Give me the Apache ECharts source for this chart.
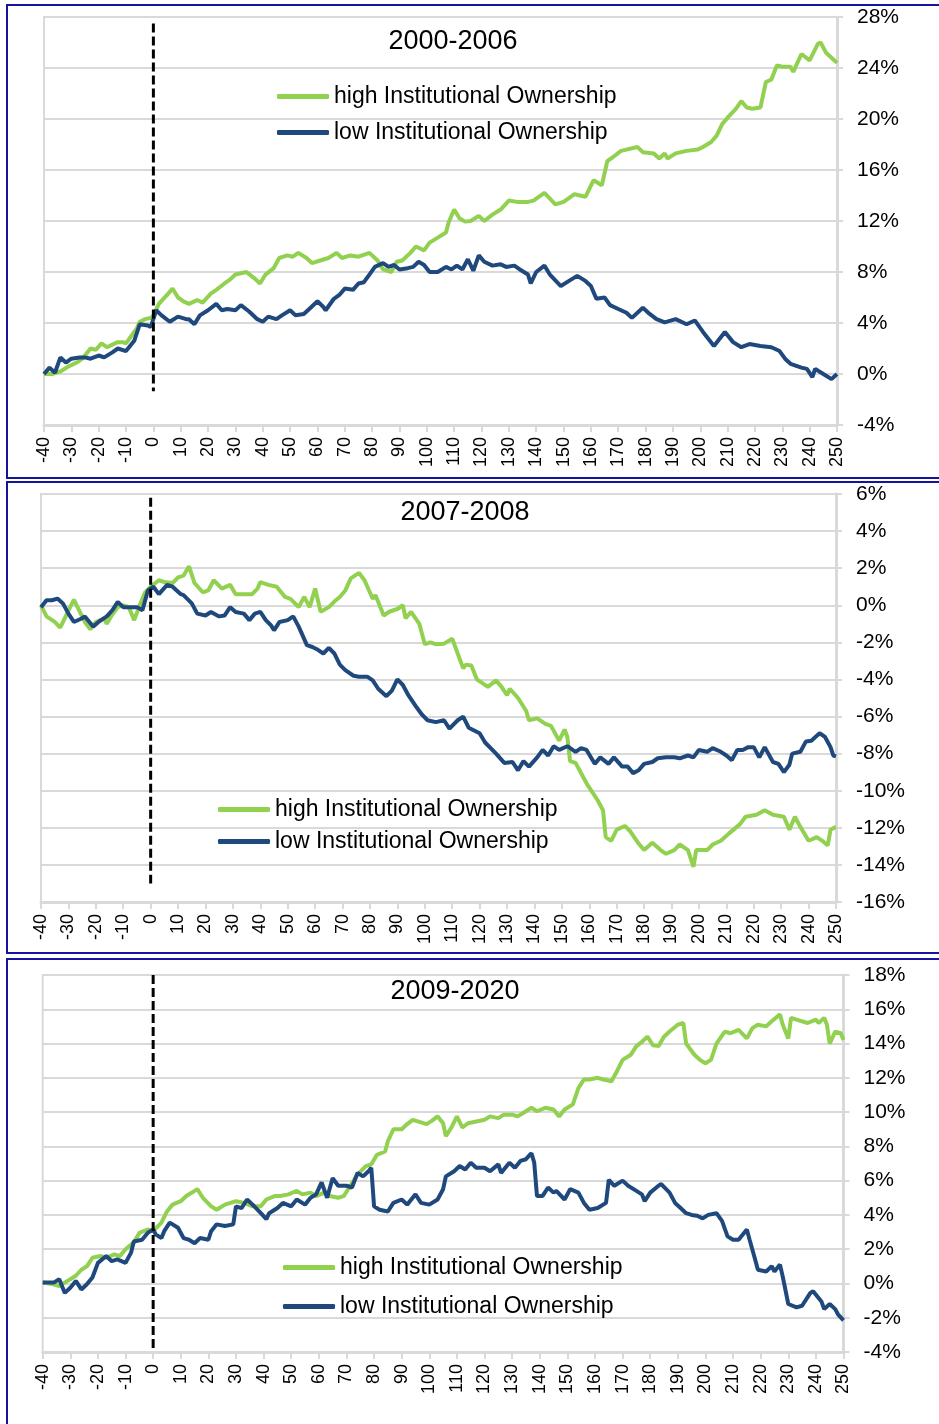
<!DOCTYPE html>
<html>
<head>
<meta charset="utf-8">
<title>High vs low institutional ownership</title>
<script src="https://cdn.jsdelivr.net/npm/echarts@6/dist/echarts.min.js"></script>
<style>
  html, body { margin: 0; padding: 0; background: #fff; }
  #chart { width: 939px; height: 1424px; }
</style>
</head>
<body>
<div id="chart"></div>
<script>
// cumulative return (%), as [day, value]
const hi0006 = [[-40,0],[-37,0],[-34,0.2],[-31,0.6],[-28,0.9],[-26,1.2],[-23,2.0],[-21,1.9],[-19,2.4],[-17,2.1],[-15,2.3],[-13,2.5],[-11,2.5],[-10,2.4],[-8,3.0],[-6,3.6],[-5,4.1],[-3,4.3],[-1,4.4],[0,4.6],[2,5.5],[5,6.2],[7,6.7],[9,6.0],[11,5.7],[13,5.5],[15,5.7],[16,5.8],[18,5.6],[21,6.3],[23,6.6],[26,7.1],[28,7.4],[30,7.8],[34,8.0],[37,7.5],[39,7.1],[41,7.8],[44,8.3],[46,9.1],[49,9.3],[51,9.2],[53,9.5],[56,9.1],[58,8.7],[61,8.9],[64,9.1],[67,9.5],[69,9.1],[72,9.3],[75,9.2],[79,9.5],[82,8.9],[84,8.2],[87,8.0],[89,8.8],[91,8.9],[94,9.5],[96,10.0],[99,9.7],[101,10.3],[104,10.7],[107,11.1],[108,11.9],[110,12.9],[112,12.2],[114,11.95],[116,12.0],[119,12.4],[121,12.0],[124,12.5],[127,12.9],[130,13.6],[133,13.5],[137,13.5],[139,13.6],[143,14.2],[147,13.3],[150,13.5],[154,14.1],[158,13.9],[161,15.2],[164,14.8],[166,16.7],[168,17.0],[171,17.5],[177,17.8],[179,17.4],[183,17.3],[185,16.9],[187,17.3],[188,16.9],[191,17.3],[195,17.5],[199,17.6],[201,17.8],[204,18.2],[206,18.7],[208,19.6],[210,20.1],[213,20.8],[215,21.4],[217,20.9],[219,20.8],[222,20.9],[224,22.9],[226,23.1],[228,24.2],[230,24.1],[233,24.1],[234,23.7],[237,25.1],[240,24.6],[243,25.9],[244,26.0],[246,25.2],[248,24.8],[250,24.4]];
const lo0006 = [[-40,0],[-38,0.5],[-36,0.1],[-34,1.3],[-32,0.9],[-30,1.2],[-27,1.3],[-25,1.3],[-23,1.2],[-20,1.45],[-18,1.3],[-15,1.7],[-13,2.0],[-10,1.8],[-7,2.6],[-5,3.9],[-2,3.8],[-1,3.7],[0,4.3],[1,5.0],[3,4.6],[6,4.1],[9,4.5],[12,4.3],[13,4.3],[15,3.9],[17,4.6],[20,5.0],[23,5.5],[25,5.0],[27,5.1],[30,5.0],[32,5.4],[35,4.9],[38,4.3],[40,4.1],[42,4.5],[45,4.3],[47,4.6],[50,5.0],[52,4.6],[55,4.7],[57,5.1],[60,5.7],[62,5.3],[63,5.0],[66,5.9],[68,6.2],[70,6.7],[73,6.6],[75,7.1],[77,7.2],[79,7.8],[81,8.4],[84,8.7],[86,8.4],[88,8.55],[90,8.2],[93,8.3],[95,8.4],[97,8.8],[99,8.55],[101,8.0],[104,8.0],[107,8.4],[109,8.2],[111,8.5],[113,8.2],[115,9.0],[117,8.1],[119,9.3],[121,8.8],[124,8.5],[127,8.6],[129,8.4],[132,8.5],[134,8.2],[137,7.8],[138,7.1],[140,8.0],[143,8.5],[145,7.8],[149,6.9],[152,7.3],[155,7.7],[158,7.3],[160,6.9],[162,5.9],[165,6.0],[167,5.4],[170,5.1],[173,4.8],[175,4.4],[179,5.2],[181,4.8],[184,4.3],[187,4.05],[191,4.3],[195,3.9],[198,4.2],[201,3.3],[205,2.2],[209,3.3],[212,2.5],[215,2.1],[218,2.35],[222,2.2],[226,2.1],[229,1.8],[231,1.2],[233,0.8],[237,0.5],[239,0.4],[241,-0.25],[242,0.4],[245,0.0],[248,-0.4],[250,0.0]];
const hi0708 = [[-40,0],[-38,-0.6],[-35,-0.9],[-33,-1.2],[-31,-0.6],[-28,0.3],[-27,0.0],[-24,-0.9],[-22,-1.3],[-20,-0.9],[-17,-0.7],[-16,-1.0],[-14,-0.5],[-12,-0.1],[-10,0.0],[-8,-0.1],[-6,-0.8],[-4,0],[-2,0.7],[0,1.0],[3,1.35],[5,1.25],[8,1.2],[10,1.5],[12,1.6],[14,2.1],[16,1.2],[19,0.7],[21,0.8],[23,1.35],[26,0.9],[29,1.1],[31,0.6],[34,0.6],[37,0.6],[39,0.9],[40,1.25],[43,1.1],[46,1.0],[49,0.45],[51,0.35],[54,-0.1],[56,0.45],[58,-0.1],[60,0.9],[62,-0.35],[65,-0.1],[67,0.2],[69,0.45],[71,0.8],[73,1.45],[76,1.75],[78,1.35],[81,0.35],[82,0.55],[85,-0.55],[87,-0.35],[90,-0.2],[92,0],[93,-0.7],[95,-0.35],[98,-1.0],[100,-2.1],[102,-2.0],[104,-2.1],[107,-2.07],[110,-1.8],[112,-2.6],[114,-3.4],[115,-3.2],[117,-3.25],[119,-4.0],[123,-4.4],[126,-4.05],[128,-4.4],[130,-4.85],[131,-4.5],[134,-5.0],[137,-5.7],[138,-6.2],[141,-6.1],[144,-6.4],[146,-6.5],[149,-7.3],[151,-6.7],[152,-7.1],[153,-8.4],[155,-8.5],[159,-9.6],[163,-10.5],[165,-11.05],[166,-12.5],[168,-12.7],[170,-12.1],[173,-11.9],[175,-12.2],[178,-12.85],[180,-13.2],[183,-12.8],[186,-13.2],[188,-13.4],[191,-13.2],[193,-12.9],[196,-13.2],[198,-14.1],[199,-13.2],[203,-13.2],[205,-12.9],[208,-12.7],[211,-12.3],[215,-11.8],[217,-11.4],[221,-11.3],[224,-11.05],[227,-11.3],[231,-11.4],[233,-12.1],[235,-11.4],[237,-11.95],[240,-12.7],[243,-12.5],[245,-12.7],[247,-12.95],[248,-12.1],[250,-11.95]];
const lo0708 = [[-40,-0.1],[-38,0.27],[-36,0.27],[-34,0.36],[-32,0.1],[-30,-0.45],[-28,-0.9],[-25,-0.7],[-24,-0.6],[-21,-1.15],[-19,-0.9],[-16,-0.6],[-14,-0.27],[-12,0.18],[-10,-0.1],[-8,-0.1],[-5,-0.1],[-3,-0.27],[-1,0.8],[1,1.0],[3,0.6],[6,1.1],[8,1.0],[11,0.6],[12,0.55],[15,0.1],[17,-0.45],[20,-0.55],[22,-0.36],[25,-0.6],[27,-0.55],[29,-0.1],[31,-0.36],[34,-0.45],[36,-0.8],[38,-0.45],[40,-0.36],[42,-0.8],[44,-1.1],[45,-1.35],[47,-0.9],[50,-0.8],[52,-0.6],[54,-1.15],[57,-2.15],[59,-2.25],[61,-2.4],[63,-2.6],[65,-2.3],[67,-2.6],[69,-3.2],[71,-3.5],[74,-3.8],[76,-3.85],[79,-3.85],[81,-4.05],[83,-4.5],[86,-4.9],[88,-4.6],[90,-4.0],[92,-4.3],[94,-4.85],[97,-5.5],[99,-5.9],[101,-6.2],[104,-6.3],[107,-6.2],[109,-6.65],[112,-6.2],[114,-6.0],[116,-6.6],[120,-6.9],[122,-7.4],[126,-8.0],[129,-8.5],[132,-8.45],[134,-8.9],[136,-8.4],[138,-8.7],[141,-8.2],[143,-7.8],[145,-8.1],[147,-7.6],[149,-7.8],[152,-7.6],[155,-7.9],[157,-7.7],[159,-7.8],[162,-8.55],[164,-8.2],[167,-8.55],[169,-8.2],[172,-8.7],[174,-8.7],[176,-9.05],[178,-8.9],[180,-8.55],[183,-8.45],[185,-8.25],[188,-8.2],[191,-8.2],[193,-8.25],[196,-8.1],[198,-8.2],[200,-7.8],[203,-7.9],[205,-7.7],[208,-7.9],[210,-8.1],[212,-8.35],[214,-7.8],[216,-7.8],[218,-7.65],[220,-7.65],[222,-8.2],[224,-7.65],[227,-8.45],[229,-8.55],[231,-9.0],[233,-8.6],[234,-8.0],[237,-7.9],[239,-7.35],[241,-7.3],[244,-6.9],[246,-7.1],[248,-7.65],[249,-8.1],[250,-8.15]];
const hi0920 = [[-40,0.05],[-36,-0.05],[-34,-0.15],[-31,0.15],[-29,0.35],[-28,0.45],[-26,0.8],[-24,1.0],[-22,1.5],[-19,1.6],[-17,1.5],[-14,1.7],[-12,1.6],[-10,2.0],[-7,2.4],[-5,2.95],[-2,3.15],[0,3.05],[3,3.55],[5,4.2],[7,4.6],[10,4.8],[12,5.1],[15,5.4],[16,5.5],[18,5.0],[21,4.5],[23,4.3],[26,4.6],[28,4.7],[30,4.8],[33,4.7],[36,4.5],[39,4.5],[41,4.9],[44,5.1],[46,5.1],[49,5.2],[52,5.4],[54,5.2],[57,5.3],[59,5.1],[62,5.3],[64,5.1],[67,5.0],[69,5.1],[71,5.6],[74,6.35],[77,6.85],[79,6.95],[81,7.5],[84,7.7],[85,8.3],[87,9.0],[90,9.0],[92,9.3],[94,9.55],[97,9.4],[99,9.3],[101,9.5],[103,9.75],[105,9.35],[106,8.6],[108,9.1],[110,9.75],[112,9.1],[114,9.35],[117,9.45],[120,9.55],[122,9.75],[125,9.65],[127,9.85],[130,9.85],[132,9.75],[134,9.95],[137,10.25],[139,10.05],[142,10.25],[145,10.15],[147,9.75],[149,10.15],[152,10.45],[154,11.4],[156,11.9],[158,11.9],[161,12.0],[163,11.9],[166,11.8],[168,12.4],[170,13.05],[173,13.35],[175,13.85],[177,14.1],[179,14.4],[181,13.9],[183,13.85],[185,14.4],[187,14.7],[190,15.1],[192,15.2],[193,14.0],[196,13.35],[198,13.05],[200,12.85],[202,13.05],[204,14.0],[207,14.7],[209,14.6],[212,14.8],[215,14.3],[217,14.9],[219,15.1],[222,15.0],[224,15.3],[227,15.7],[228,15.1],[230,14.3],[231,15.5],[233,15.4],[237,15.2],[240,15.4],[241,15.2],[243,15.5],[244,15.1],[245,14.0],[247,14.7],[249,14.6],[250,14.2]];
const lo0920 = [[-40,0.05],[-36,0.05],[-34,0.25],[-32,-0.55],[-30,-0.25],[-28,0.15],[-26,-0.35],[-24,-0.05],[-22,0.35],[-20,1.2],[-17,1.6],[-15,1.3],[-13,1.4],[-10,1.2],[-8,1.8],[-7,2.45],[-4,2.55],[-2,2.95],[0,3.15],[1,2.85],[3,2.65],[4,3.05],[6,3.55],[9,3.25],[11,2.65],[13,2.55],[15,2.35],[17,2.65],[20,2.55],[21,3.05],[23,3.45],[26,3.35],[29,3.45],[30,4.5],[32,4.4],[34,4.9],[36,4.6],[39,4.1],[41,3.75],[42,4.1],[45,4.4],[47,4.7],[50,4.5],[52,4.9],[55,4.6],[57,5.0],[59,5.2],[61,5.9],[63,5.0],[65,6.15],[67,5.7],[70,5.7],[72,5.6],[74,6.45],[76,6.25],[78,6.55],[79,6.75],[80,4.5],[82,4.3],[85,4.2],[87,4.7],[90,4.9],[92,4.6],[95,5.2],[97,4.7],[100,4.6],[103,4.9],[105,5.5],[106,6.25],[109,6.55],[111,6.85],[113,6.65],[115,7.05],[117,6.75],[120,6.75],[122,6.55],[125,6.95],[126,6.45],[129,7.05],[131,6.75],[133,7.15],[135,7.25],[137,7.6],[138,7.05],[139,5.1],[141,5.1],[143,5.6],[145,5.3],[146,5.4],[149,4.9],[151,5.5],[154,5.3],[156,4.7],[158,4.3],[161,4.4],[164,4.7],[165,6.05],[167,5.7],[170,6.0],[172,5.7],[175,5.4],[177,5.2],[178,4.8],[180,5.3],[183,5.7],[184,5.8],[187,5.3],[189,4.7],[191,4.4],[193,4.1],[195,4.0],[197,3.95],[199,3.8],[201,4.0],[204,4.1],[206,3.65],[208,2.75],[210,2.55],[212,2.55],[215,3.15],[216,2.55],[218,1.4],[219,0.8],[222,0.7],[224,1.0],[225,0.7],[227,1.1],[228,0.4],[230,-1.2],[233,-1.4],[235,-1.3],[238,-0.55],[239,-0.45],[242,-1.05],[243,-1.5],[245,-1.2],[247,-1.5],[248,-1.8],[250,-2.15]];

// event day marker: top / bottom value of the dashed line in each panel
const eventDay = 0;
const evt0006 = [27.5, -1.35];
const evt0708 = [5.8, -15.0];
const evt0920 = [18, -4];

const panelTitles = ['2000-2006', '2007-2008', '2009-2020'];
const yMin = [-4, -16, -4];
const yMax = [28, 6, 18];
const yStep = [4, 2, 2];
const seriesNames = ['high Institutional Ownership', 'low Institutional Ownership'];

const GREEN = '#92d050';
const BLUE = '#1f497d';
const GRID = '#d9d9d9';
const FONT = '"Liberation Sans", Arial, sans-serif';

// layout of the three stacked panels
const grids = [
  {left: 44, right: 102, top: 17, height: 408},
  {left: 41, right: 103, top: 494, height: 408},
  {left: 42.7, right: 95.5, top: 975, height: 377}
];
const titlePos = [{x: 453, y: 28}, {x: 465, y: 499}, {x: 455, y: 978}];
const legendPos = [{x: 277, y: 85, gap: 13}, {x: 218, y: 798, gap: 9}, {x: 283, y: 1256, gap: 16}];
const frames = [{y: 5, h: 473}, {y: 482, h: 471}, {y: 959, h: 480}];

const data = [[hi0006, lo0006], [hi0708, lo0708], [hi0920, lo0920]];
const events = [evt0006, evt0708, evt0920];

const chart = echarts.init(document.getElementById('chart'));

const series = [];
data.forEach((pair, i) => {
  series.push({
    name: seriesNames[0], type: 'line', xAxisIndex: i, yAxisIndex: i,
    data: pair[0], symbol: 'none', z: 3,
    lineStyle: {color: GREEN, width: 4}, itemStyle: {color: GREEN}
  });
  series.push({
    name: seriesNames[1], type: 'line', xAxisIndex: i, yAxisIndex: i,
    data: pair[1], symbol: 'none', z: 4,
    lineStyle: {color: BLUE, width: 4}, itemStyle: {color: BLUE}
  });
  series.push({
    name: 'event', type: 'line', xAxisIndex: i, yAxisIndex: i,
    data: events[i].map(v => [eventDay, v]), symbol: 'none', z: 5,
    lineStyle: {color: '#000', width: 3, type: [9, 4]}, silent: true
  });
});

chart.setOption({
  backgroundColor: '#fff',
  animation: false,
  textStyle: {fontFamily: FONT},
  title: panelTitles.map((t, i) => ({
    text: t, left: titlePos[i].x, top: titlePos[i].y, textAlign: 'center', padding: 0,
    textStyle: {fontSize: 27, fontWeight: 'normal', color: '#000', fontFamily: FONT}
  })),
  legend: legendPos.map(p => ({
    data: seriesNames, orient: 'vertical', left: p.x, top: p.y, itemGap: p.gap, padding: 0,
    icon: 'roundRect', itemWidth: 52, itemHeight: 5, selectedMode: false,
    textStyle: {fontSize: 23, color: '#000', fontFamily: FONT}
  })),
  grid: grids.map(g => ({...g, show: true, borderColor: GRID, borderWidth: 2, containLabel: false})),
  xAxis: grids.map((g, i) => ({
    gridIndex: i, type: 'value', min: -40, max: 250, interval: 10,
    axisLine: {show: true, onZero: false, lineStyle: {color: GRID, width: 3}},
    axisTick: {show: true, length: 7, lineStyle: {color: GRID, width: 2}},
    axisLabel: {rotate: 90, fontSize: 18, color: '#000', margin: 12, fontFamily: FONT},
    splitLine: {show: false}
  })),
  yAxis: grids.map((g, i) => ({
    gridIndex: i, type: 'value', position: 'right',
    min: yMin[i], max: yMax[i], interval: yStep[i],
    axisLine: {show: true, onZero: false, lineStyle: {color: GRID, width: 3}},
    axisTick: {show: true, length: 6, lineStyle: {color: GRID, width: 2}},
    axisLabel: {formatter: '{value}%', fontSize: 21, color: '#000', margin: 20, fontFamily: FONT},
    splitLine: {show: true, lineStyle: {color: GRID, width: 2}}
  })),
  graphic: frames.map(f => ({
    type: 'rect', silent: true, z: 100,
    shape: {x: 7, y: f.y, width: 945, height: f.h},
    style: {fill: 'none', stroke: '#14149c', lineWidth: 2}
  })),
  series: series
});
</script>
</body>
</html>
